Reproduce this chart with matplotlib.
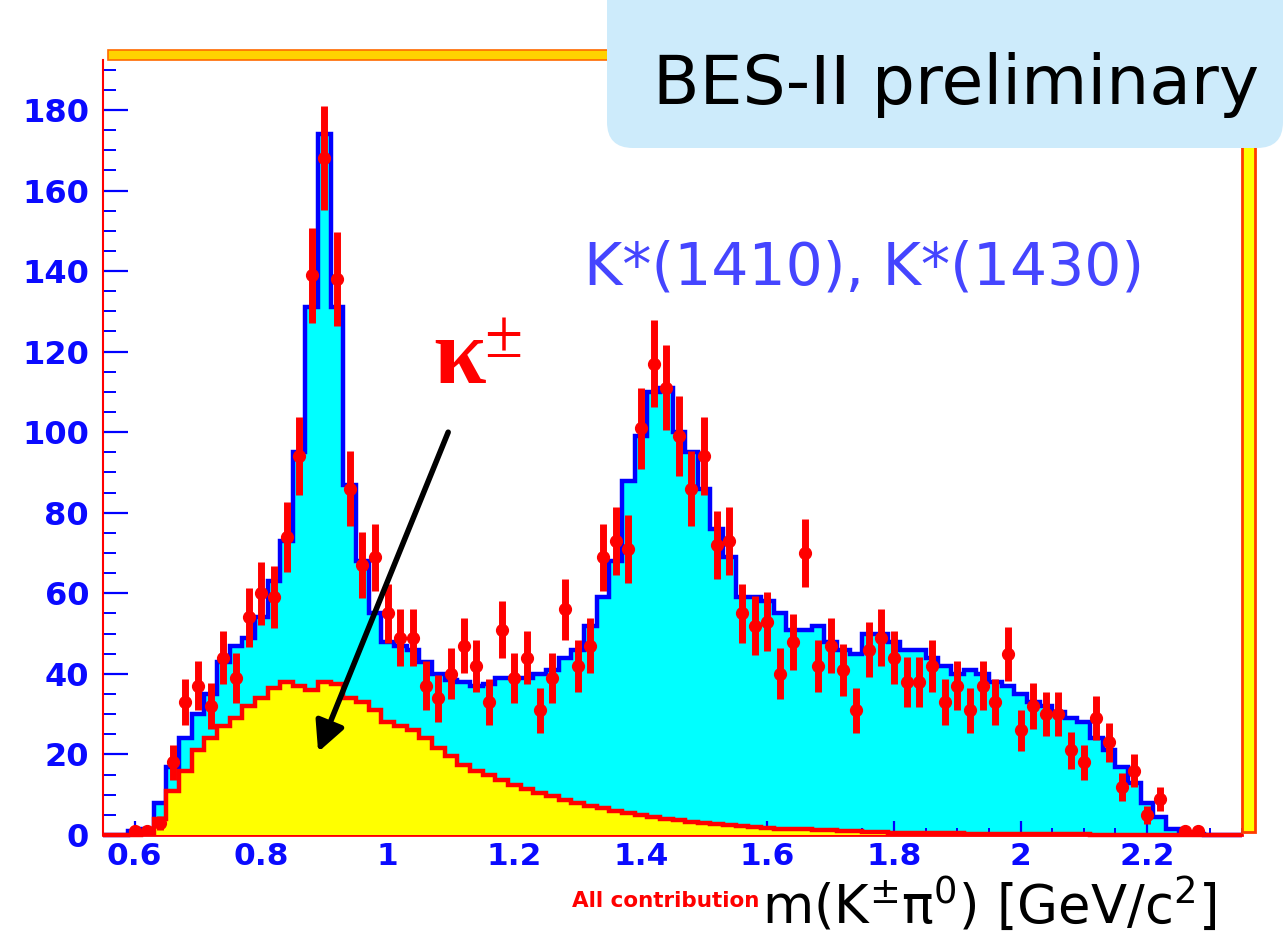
import numpy as np
import matplotlib
matplotlib.use('Agg')
import matplotlib.pyplot as plt
from matplotlib import ticker
from matplotlib.patches import Rectangle, FancyBboxPatch
from matplotlib.transforms import IdentityTransform

# 0.02 GeV bins from 0.55 to 2.35
edges = np.round(np.linspace(0.55, 2.35, 91), 3)
centers = (edges[:-1] + edges[1:]) / 2

# data (events per bin)
data = np.array([
    0, 0, 1, 1, 3, 18, 33, 37, 32, 44,
    39, 54, 60, 59, 74, 94, 139, 168, 138, 86,
    67, 69, 55, 49, 49, 37, 34, 40, 47, 42,
    33, 51, 39, 44, 31, 39, 56, 42, 47, 69,
    73, 71, 101, 117, 111, 99, 86, 94, 72, 73,
    55, 52, 53, 40, 48, 70, 42, 47, 41, 31,
    46, 49, 44, 38, 38, 42, 33, 37, 31, 37,
    33, 45, 26, 32, 30, 30, 21, 18, 29, 23,
    12, 16, 5, 9, 0, 1, 1, 0, 0, 0])

# total fit (all contributions)
total = np.array([
    0, 0, 1, 1.5, 8, 17, 24, 30, 35, 43,
    47, 49, 54, 63, 73, 95, 131, 174, 131, 87,
    68, 55, 48, 47, 46, 43, 40, 38.5, 38, 37,
    37.5, 39, 39, 39, 40, 41, 44, 46, 52, 59,
    68, 88, 99, 110, 111, 100, 95, 86, 76, 69,
    59, 59, 58, 55, 51, 51, 52, 48, 46, 45,
    50, 50, 48, 46, 46, 44, 42, 40, 41, 40,
    38, 37, 35, 33, 32, 30.5, 29, 28, 24, 21,
    17, 13, 8, 4.5, 1.5, 0.5, 0.2, 0, 0, 0])

# kappa component
kappa = np.array([
    0, 0, 0, 0.5, 4, 11, 16, 21, 24, 27,
    29, 32, 34, 36.5, 38, 37, 36, 38, 37.5, 34,
    33, 31, 28, 27, 26, 24, 21.5, 19.5, 17.5, 16,
    14.8, 13.6, 12.5, 11.5, 10.5, 9.6, 8.8, 8, 7.3, 6.6,
    6, 5.4, 4.9, 4.4, 4, 3.6, 3.3, 3, 2.7, 2.4,
    2.2, 2, 1.8, 1.6, 1.5, 1.4, 1.3, 1.2, 1.1, 1,
    0.8, 0.7, 0.6, 0.5, 0.5, 0.4, 0.4, 0.4, 0.3, 0.3,
    0.3, 0.3, 0.2, 0.2, 0.2, 0.2, 0.2, 0.2, 0.1, 0.1,
    0.1, 0.1, 0.1, 0.1, 0, 0, 0, 0, 0, 0])

xticks = [0.6, 0.8, 1.0, 1.2, 1.4, 1.6, 1.8, 2.0, 2.2]
xticklabels = ['0.6', '0.8', '1', '1.2', '1.4', '1.6', '1.8', '2', '2.2']
yticks = [0, 20, 40, 60, 80, 100, 120, 140, 160, 180]

W, H = 1285, 932
fig = plt.figure(figsize=(W / 100, H / 100), dpi=100)
ax = fig.add_axes([103 / W, 97 / H, 1139 / W, 775 / H])

ax.stairs(total, edges, fill=True, color='#00ffff', zorder=1)
ax.stairs(total, edges, color='#0000ff', lw=3.2, zorder=2, clip_on=False)
ax.stairs(kappa, edges, fill=True, color='#ffff00', zorder=3)
ax.stairs(kappa, edges, color='#ff0000', lw=3.2, zorder=4, clip_on=False)

m = data > 0
ax.errorbar(centers[m], data[m], yerr=np.sqrt(data[m]), fmt='o', color='#ff0000',
            ms=8.5, elinewidth=5, capsize=0, zorder=5)

ax.set_xlim(0.55, 2.35)
ax.set_ylim(0, 192.4)
ax.set_xticks(xticks)
ax.set_xticklabels(xticklabels, fontweight='bold')
ax.set_yticks(yticks)
ax.set_yticklabels([str(v) for v in yticks], fontweight='bold')
ax.xaxis.set_minor_locator(ticker.MultipleLocator(0.05))
ax.yaxis.set_minor_locator(ticker.MultipleLocator(5))
ax.tick_params(axis='both', which='both', direction='in', color='#0000ff',
               labelcolor='#0a0aff', labelsize=23, top=False, right=False)
ax.tick_params(axis='x', which='major', length=10, width=1.6, pad=5, labelsize=22.5)
ax.tick_params(axis='x', which='minor', length=5, width=1.4)
ax.tick_params(axis='y', which='major', length=18, width=1.6, pad=10)
ax.tick_params(axis='y', which='minor', length=9, width=1.4)

for s in ['top', 'right']:
    ax.spines[s].set_visible(False)
ax.spines['left'].set_color('#ff0000')
ax.spines['left'].set_linewidth(1.5)
ax.spines['bottom'].set_color('#ff0000')
ax.spines['bottom'].set_linewidth(2)

# frame border (top and right)
px = IdentityTransform()
fig.patches.append(Rectangle((108, H - 60), 1147, 10, transform=px,
                             facecolor='#ffd200', edgecolor='#ff6a00', lw=1.2, zorder=0))
fig.patches.append(Rectangle((1242, H - 832), 13, 782, transform=px,
                             facecolor='#ffff00', edgecolor='#ff3c00', lw=2, zorder=0))

# BES label box
fig.patches.append(FancyBboxPatch((607, H - 148), 676, 220, transform=px,
                                  boxstyle='round,pad=0,rounding_size=26',
                                  facecolor='#cdebfb', edgecolor='none', zorder=5))
fig.text(956 / W, (H - 104) / H, 'BES-II preliminary', ha='center', va='baseline',
         fontsize=49, color='black', zorder=6)

fig.text(864 / W, (H - 284) / H, 'K*(1410), K*(1430)', ha='center', va='baseline',
         fontsize=42, color='#4545ff')

fig.text(433 / W, (H - 383) / H, 'κ', family='Liberation Serif', weight='bold',
         fontsize=68, color='#ff0000', va='baseline')
fig.text(484 / W, (H - 357) / H, '±', family='Liberation Serif',
         fontsize=50, color='#ff0000', va='baseline')

ax.annotate('', xy=(0.890, 20.6), xytext=(1.0955, 100),
            arrowprops=dict(arrowstyle='-|>', color='black', lw=4,
                            mutation_scale=45, shrinkA=0, shrinkB=0), zorder=6)

fig.text(572 / W, (H - 907) / H, 'All contribution', fontsize=15.5, weight='bold',
         color='#ff0000', va='baseline')

fig.text(762 / W, (H - 923) / H, r'$\mathregular{m(K^{\pm}π^{0})\ [GeV/c^{2}]}$',
         family='DejaVu Sans', fontsize=38, color='black', va='baseline')

fig.savefig('out.png', dpi=100)
